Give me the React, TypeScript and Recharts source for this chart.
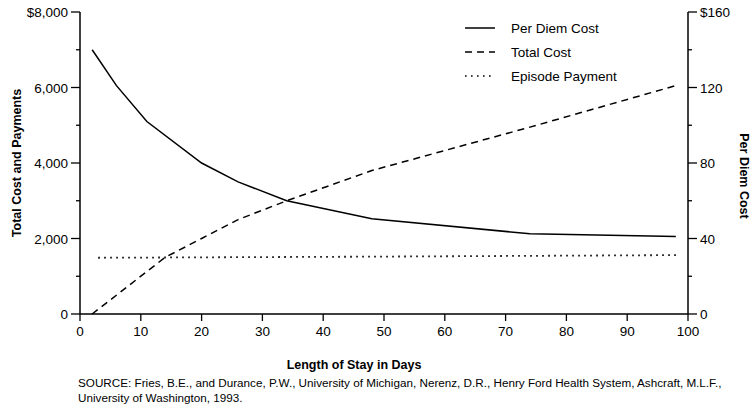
import React from 'react';
import { LineChart, Line, XAxis, YAxis } from 'recharts';

// values
const perDiemDays = [2, 6, 11, 20, 26, 34, 48, 74, 98];
const perDiemCost = [140, 121, 102, 80, 70, 60, 50.5, 42.5, 41];

const totalCostDays = [2, 14, 20, 26, 34, 48, 74, 98];
const totalCost = [0, 1500, 2000, 2500, 3000, 3800, 4950, 6050];

const episodeDays = [3, 49, 98];
const episodePayment = [1490, 1520, 1560];

const xTicks = [0, 10, 20, 30, 40, 50, 60, 70, 80, 90, 100];
const leftTicks = [0, 1000, 2000, 3000, 4000, 5000, 6000, 7000, 8000];
const rightTicks = [0, 20, 40, 60, 80, 100, 120, 140, 160];

const legendItems = [
  { name: 'Per Diem Cost', dash: undefined },
  { name: 'Total Cost', dash: '7 5' },
  { name: 'Episode Payment', dash: '1.6 4.4' },
];

const sourceLines = [
  'SOURCE:  Fries, B.E., and Durance, P.W., University of Michigan, Nerenz, D.R., Henry Ford Health System, Ashcraft, M.L.F.,',
  'University of Washington, 1993.',
];

const FONT = '"Liberation Sans", Arial, Helvetica, sans-serif';

const zip = (xs: number[], ys: number[]) => xs.map((d, i) => ({ day: d, v: ys[i] }));
const perDiemData = zip(perDiemDays, perDiemCost);
const totalData = zip(totalCostDays, totalCost);
const episodeData = zip(episodeDays, episodePayment);

function LeftTick({ x, y, payload }: any) {
  const v = payload.value;
  const major = v % 2000 === 0;
  const label = v === 8000 ? '$8,000' : v.toLocaleString('en-US');
  return (
    <g>
      <line x1={x} x2={x - (major ? 9 : 4)} y1={y} y2={y} stroke="#000" strokeWidth={1.3} />
      {major && (
        <text x={x - 12} y={y} dy={5} textAnchor="end" fontSize={13.5} fontFamily={FONT} fill="#000">
          {label}
        </text>
      )}
    </g>
  );
}

function RightTick({ x, y, payload }: any) {
  const v = payload.value;
  const major = v % 40 === 0;
  const label = v === 160 ? '$160' : String(v);
  return (
    <g>
      <line x1={x} x2={x + (major ? 9 : 4)} y1={y} y2={y} stroke="#000" strokeWidth={1.3} />
      {major && (
        <text x={x + 12} y={y} dy={5} textAnchor="start" fontSize={13.5} fontFamily={FONT} fill="#000">
          {label}
        </text>
      )}
    </g>
  );
}

function LegendBox() {
  return (
    <svg width={170} height={80} style={{ position: 'absolute', left: 461, top: 18 }}>
      {legendItems.map((it, i) => (
        <g key={it.name}>
          <line
            x1={4}
            x2={34}
            y1={10 + i * 24}
            y2={10 + i * 24}
            stroke="#000"
            strokeWidth={1.5}
            strokeDasharray={it.dash}
          />
          <text x={50} y={10 + i * 24} dy={5} fontSize={13.5} fontFamily={FONT} fill="#000">
            {it.name}
          </text>
        </g>
      ))}
    </svg>
  );
}

export default function App() {
  return (
    <div style={{ position: 'absolute', left: 0, top: 0, width: 755, height: 420, background: '#fff', fontFamily: FONT }}>
      <LineChart width={755} height={420} margin={{ top: 12, right: 0, bottom: 0, left: 0 }}>
        <XAxis
          type="number"
          dataKey="day"
          domain={[0, 100]}
          ticks={xTicks}
          allowDataOverflow
          height={106}
          tickSize={7}
          tickMargin={5}
          axisLine={{ stroke: '#000', strokeWidth: 1.5 }}
          tickLine={{ stroke: '#000', strokeWidth: 1.3 }}
          tick={{ fill: '#000', fontSize: 13.5, fontFamily: FONT }}
        />
        <YAxis
          yAxisId="left"
          orientation="left"
          domain={[0, 8000]}
          ticks={leftTicks}
          width={80}
          tickSize={0}
          tickMargin={0}
          tickLine={false}
          axisLine={{ stroke: '#000', strokeWidth: 1.5 }}
          tick={<LeftTick />}
          interval={0}
        />
        <YAxis
          yAxisId="right"
          orientation="right"
          domain={[0, 160]}
          ticks={rightTicks}
          width={67}
          tickSize={0}
          tickMargin={0}
          tickLine={false}
          axisLine={{ stroke: '#000', strokeWidth: 1.5 }}
          tick={<RightTick />}
          interval={0}
        />
        <Line
          yAxisId="right"
          data={perDiemData}
          dataKey="v"
          name="Per Diem Cost"
          type="linear"
          stroke="#000"
          strokeWidth={1.5}
          dot={false}
          isAnimationActive={false}
        />
        <Line
          yAxisId="left"
          data={totalData}
          dataKey="v"
          name="Total Cost"
          type="linear"
          stroke="#000"
          strokeWidth={1.5}
          strokeDasharray="7 5"
          dot={false}
          isAnimationActive={false}
        />
        <Line
          yAxisId="left"
          data={episodeData}
          dataKey="v"
          name="Episode Payment"
          type="linear"
          stroke="#000"
          strokeWidth={1.8}
          strokeDasharray="1.6 4.4"
          dot={false}
          isAnimationActive={false}
        />
      </LineChart>

      <LegendBox />

      {/* axis titles */}
      <div
        style={{
          position: 'absolute',
          left: 17,
          top: 163,
          transform: 'translate(-50%, -50%) rotate(-90deg)',
          whiteSpace: 'nowrap',
          fontWeight: 'bold',
          fontSize: 12.5,
        }}
      >
        Total Cost and Payments
      </div>
      <div
        style={{
          position: 'absolute',
          left: 744,
          top: 176,
          transform: 'translate(-50%, -50%) rotate(90deg)',
          whiteSpace: 'nowrap',
          fontWeight: 'bold',
          fontSize: 12.5,
        }}
      >
        Per Diem Cost
      </div>
      <div
        style={{
          position: 'absolute',
          left: 354,
          top: 365,
          transform: 'translate(-50%, -50%)',
          whiteSpace: 'nowrap',
          fontWeight: 'bold',
          fontSize: 12.5,
        }}
      >
        Length of Stay in Days
      </div>

      <div style={{ position: 'absolute', left: 78, top: 375, fontSize: 11.7, lineHeight: '15px', whiteSpace: 'nowrap' }}>
        {sourceLines.map((l) => (
          <div key={l}>{l}</div>
        ))}
      </div>
    </div>
  );
}
